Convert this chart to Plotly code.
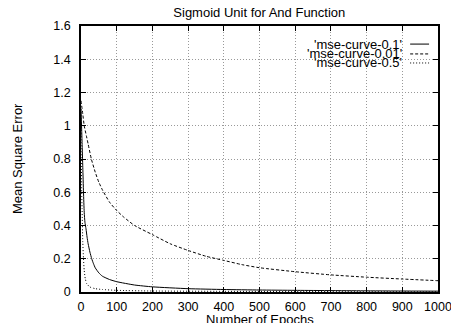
import plotly.graph_objects as go

title = "Sigmoid Unit for And Function"
x_label = "Number of Epochs"
y_label = "Mean Square Error"

names = ["'mse-curve-0.1'", "'mse-curve-0.01'", "'mse-curve-0.5'"]

ep_01 = [0, 3, 5, 7, 9, 11, 14, 17, 20, 25, 30, 35, 40, 50, 60, 80, 100, 150, 200, 300, 400, 500, 600, 800, 1000]
mse_01 = [1.1, 0.9, 0.75, 0.6, 0.48, 0.42, 0.38, 0.33, 0.29, 0.24, 0.2, 0.17, 0.145, 0.115, 0.095, 0.075, 0.062, 0.042, 0.031, 0.02, 0.015, 0.012, 0.01, 0.007, 0.005]

ep_001 = [0, 5, 9, 15, 20, 29, 40, 50, 61, 80, 100, 120, 150, 200, 250, 300, 350, 400, 450, 500, 600, 700, 800, 900, 1000]
mse_001 = [1.15, 1.07, 1.0, 0.94, 0.89, 0.8, 0.72, 0.66, 0.61, 0.54, 0.49, 0.45, 0.4, 0.345, 0.29, 0.25, 0.215, 0.19, 0.165, 0.146, 0.122, 0.103, 0.089, 0.078, 0.068]

ep_05 = [0, 1, 2, 3, 5, 7, 9, 12, 16, 25, 40, 60, 100, 200, 400, 700, 1000]
mse_05 = [1.1, 0.8, 0.6, 0.5, 0.3, 0.2, 0.13, 0.08, 0.05, 0.03, 0.02, 0.015, 0.01, 0.006, 0.004, 0.003, 0.002]

x_ticks = list(range(0, 1001, 100))
y_ticks = [0, 0.2, 0.4, 0.6, 0.8, 1.0, 1.2, 1.4, 1.6]

dashes = ["solid", "3px,2px", "1px,2px"]
series = [(ep_01, mse_01), (ep_001, mse_001), (ep_05, mse_05)]

font = "Liberation Sans, Arial, Helvetica, sans-serif"
fs = 13
tfont = dict(family=font, size=fs, color="black")
tickf = dict(family=font, size=12.5, color="black")

fig = go.Figure()
for (xs, ys), nm, d in zip(series, names, dashes):
    fig.add_trace(go.Scatter(x=xs, y=ys, mode="lines", name=nm,
                             line=dict(color="black", width=1, dash=d, shape="spline", smoothing=0.5),
                             showlegend=False, cliponaxis=True))

# custom gnuplot-style legend (text right, sample to the right)
rows = [0.932, 0.895, 0.861]
for nm, d, yy in zip(names, dashes, rows):
    fig.add_annotation(x=0.905, y=yy, xref="paper", yref="paper", text=nm,
                       showarrow=False, xanchor="right", yanchor="middle", font=tfont)
    fig.add_shape(type="line", xref="paper", yref="paper", x0=0.922, x1=0.975, y0=yy, y1=yy,
                  line=dict(color="black", width=1, dash=d))

# axis titles as annotations
fig.add_annotation(x=0.5, y=-0.066, xref="paper", yref="paper", text=x_label, showarrow=False,
                   xanchor="center", yanchor="top", font=tfont)
fig.add_annotation(x=-0.179, y=0.5, xref="paper", yref="paper", text=y_label, showarrow=False,
                   xanchor="center", yanchor="middle", textangle=-90, font=tfont)

axis_common = dict(showline=True, linecolor="black", linewidth=1.5, mirror="ticks",
                   ticks="inside", ticklen=5, tickcolor="black", automargin=False,
                   showgrid=True, gridcolor="#999999", griddash="1px,2px", gridwidth=1,
                   zeroline=False, tickfont=tickf)

fig.update_layout(
    width=451, height=323,
    margin=dict(l=81, r=13, t=26, b=31),
    paper_bgcolor="white", plot_bgcolor="white",
    title=dict(text=title, x=0.575, xanchor="center", y=0.962, yanchor="middle", font=tfont),
    xaxis=dict(range=[0, 1000], tickvals=x_ticks, ticklabelstandoff=2, ticklabeloverflow="allow",
               **axis_common),
    yaxis=dict(range=[0, 1.6], tickvals=y_ticks, ticklabelstandoff=6, **axis_common),
)

fig.write_html("out.html")
